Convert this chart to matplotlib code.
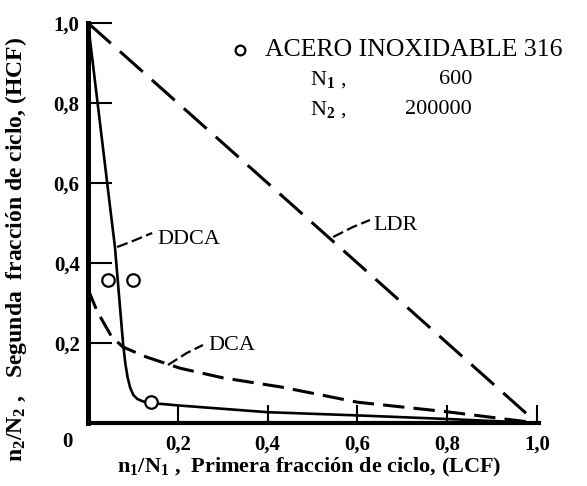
import matplotlib
matplotlib.use("Agg")
import matplotlib.pyplot as plt

plt.rcParams['font.family'] = ['Liberation Serif', 'DejaVu Serif']
plt.rcParams['mathtext.fontset'] = 'custom'
plt.rcParams['mathtext.rm'] = 'Liberation Serif'
plt.rcParams['mathtext.bf'] = 'Liberation Serif:bold'
plt.rcParams['mathtext.it'] = 'Liberation Serif:italic'

# curves
ldr_x = [0.0, 1.0]
ldr_y = [1.0, 0.0]

ddca_x = [0.0, 0.047, 0.06, 0.072, 0.078, 0.083, 0.088, 0.094, 0.101, 0.11, 0.122, 0.14, 0.2, 0.4, 0.6, 0.8, 1.0]
ddca_y = [1.0, 0.56, 0.44, 0.28, 0.20, 0.15, 0.115, 0.088, 0.07, 0.06, 0.054, 0.05, 0.044, 0.027, 0.019, 0.01, 0.0]

dca_x = [0.0, 0.02, 0.053, 0.078, 0.13, 0.205, 0.3, 0.43, 0.6, 0.8, 1.0]
dca_y = [0.335, 0.28, 0.215, 0.19, 0.165, 0.137, 0.113, 0.09, 0.052, 0.028, 0.0]

exp_x = [0.045, 0.10, 0.14]
exp_y = [0.357, 0.357, 0.052]

xticks = [0.2, 0.4, 0.6, 0.8, 1.0]
xticklabels = ["0,2", "0,4", "0,6", "0,8", "1,0"]
yticks = [0.2, 0.4, 0.6, 0.8, 1.0]
yticklabels = ["0,2", "0,4", "0,6", "0,8", "1,0"]

fig = plt.figure(figsize=(5.87, 4.86), dpi=100)
ax = fig.add_axes([88 / 587, 63 / 486, 449 / 587, 400 / 486])

ax.plot(ldr_x, ldr_y, color="black", lw=2.2, dashes=(10, 4), clip_on=False)
ax.plot(dca_x, dca_y, color="black", lw=2.2, dashes=(7, 3), clip_on=False)
ax.plot(ddca_x, ddca_y, color="black", lw=1.9, clip_on=False)
ax.plot(exp_x, exp_y, "o", ms=9, mfc="white", mec="black", mew=1.6, clip_on=False)

# leader lines and curve names
ax.plot([0.065, 0.10, 0.143], [0.44, 0.455, 0.475], color="black", lw=1.6, dashes=(5, 2))
ax.text(0.154, 0.46, "DDCA", fontsize=16, va="center", ha="left")
ax.plot([0.546, 0.59, 0.628], [0.465, 0.49, 0.5075], color="black", lw=1.6, dashes=(5, 2))
ax.text(0.635, 0.495, "LDR", fontsize=16, va="center", ha="left")
ax.plot([0.178, 0.22, 0.256], [0.145, 0.175, 0.195], color="black", lw=1.6, dashes=(5, 2))
ax.text(0.267, 0.1925, "DCA", fontsize=16, va="center", ha="left")

# legend block
ax.plot([0.3385], [0.9325], "o", ms=7, mfc="white", mec="black", mew=1.6, clip_on=False)
ax.text(0.394, 0.9325, "ACERO INOXIDABLE 316", fontsize=18.5, va="center", ha="left")
ax.text(0.494, 0.8575, r"N$_{\mathbf{1}}$ ,", fontsize=16, va="center", ha="left")
ax.text(0.855, 0.8575, "600", fontsize=16, va="center", ha="right")
ax.text(0.494, 0.7825, r"N$_{\mathbf{2}}$ ,", fontsize=16, va="center", ha="left")
ax.text(0.855, 0.7825, "200000", fontsize=16, va="center", ha="right")

ax.set_xlim(0, 1.0)
ax.set_ylim(0, 1.0)
ax.spines["top"].set_visible(False)
ax.spines["right"].set_visible(False)
ax.spines["left"].set_linewidth(3.6)
ax.spines["bottom"].set_linewidth(3.0)
ax.spines["bottom"].set_bounds(0, 1.005)

ax.set_xticks(xticks)
ax.set_xticklabels(xticklabels, fontsize=15, fontweight="bold")
ax.set_yticks(yticks)
ax.set_yticklabels(yticklabels, fontsize=15, fontweight="bold")
ax.tick_params(axis="x", direction="in", length=13, width=1.5, pad=8)
ax.tick_params(axis="y", direction="in", length=17, width=1.5, pad=6)
ax.text(-0.045, -0.048, "0", fontsize=15, fontweight="bold", ha="center", va="center",
        transform=ax.transData)

ax.set_xlabel(r"$\mathbf{n_1/N_1}$ ,  Primera fracción de ciclo, (LCF)",
              fontsize=16, fontweight="bold")
ax.xaxis.set_label_coords(0.492, -0.083)
ax.set_ylabel(r"$\mathbf{n_2/N_2}$ ,   Segunda  fracción de ciclo, (HCF)",
              fontsize=17, fontweight="bold")
ax.yaxis.set_label_coords(-0.131, 0.435)

fig.savefig("out.png", dpi=100, facecolor="white")
